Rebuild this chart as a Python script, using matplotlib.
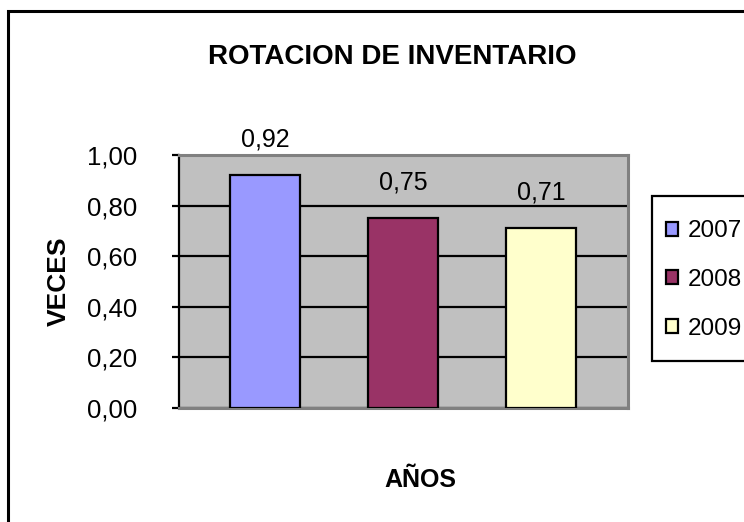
import matplotlib.pyplot as plt
from matplotlib.patches import Rectangle
from matplotlib.ticker import FuncFormatter

# --- Data ---
years = ['2007', '2008', '2009']
rotation = [0.92, 0.75, 0.71]
bar_colors = ['#9999FF', '#993366', '#FFFFCC']
y_ticks = [0.0, 0.2, 0.4, 0.6, 0.8, 1.0]

plt.rcParams['font.family'] = ['Liberation Sans', 'DejaVu Sans']

W, H = 744, 522
fig = plt.figure(figsize=(W / 100, H / 100), dpi=100)
ax = fig.add_axes([179 / W, 1 - 408 / H, (628 - 179) / W, (408 - 155) / H])

# --- Bars ---
x = list(range(len(years)))
bars = ax.bar(x, rotation, width=0.507, color=bar_colors,
              edgecolor='black', linewidth=1.6, zorder=3, label=years)
ax.bar_label(bars, labels=[f"{v:.2f}".replace('.', ',') for v in rotation],
             padding=17, fontsize=18)

# --- Axes styling ---
ax.set_facecolor('#C0C0C0')
ax.set_xlim(-0.623, 2.63)
ax.set_ylim(0, 1.0)
ax.set_yticks(y_ticks)
ax.yaxis.set_major_formatter(FuncFormatter(lambda v, p: f"{v:.2f}".replace('.', ',')))
ax.set_xticks([])
ax.tick_params(axis='y', direction='out', length=5, width=1.6, labelsize=18.5, pad=25)
ax.yaxis.grid(True, color='black', linewidth=1.6)
ax.set_axisbelow(True)

for side in ['top', 'right', 'bottom']:
    ax.spines[side].set_color('#808080')
    ax.spines[side].set_linewidth(2.2)
ax.spines['left'].set_color('black')
ax.spines['left'].set_linewidth(1.6)

# --- Titles ---
fig.text(392 / W, 1 - 57 / H, 'ROTACION DE INVENTARIO', ha='center', va='center',
         fontsize=20, fontweight='bold')
fig.text(59 / W, 1 - 281 / H, 'VECES', ha='center', va='center',
         rotation=90, fontsize=19, fontweight='bold')
fig.text(420 / W, 1 - 480 / H, 'AÑOS', ha='center', va='center',
         fontsize=18, fontweight='bold')

# --- Legend ---
fig.patches.append(Rectangle((652 / W, 1 - 361 / H), 0.3, (361 - 196) / H,
                             transform=fig.transFigure, facecolor='white',
                             edgecolor='black', linewidth=1.6))
fig.legend(handles=bars, labels=years, loc='center left',
           bbox_to_anchor=(656 / W, 1 - 280 / H), frameon=False, fontsize=17.5,
           handlelength=0.5, handleheight=0.5, handletextpad=0.4,
           labelspacing=1.1, borderaxespad=0)

# --- Outer chart frame ---
fig.patches.append(Rectangle((8 / W, -0.2), 1.2, 1.2 - 11 / H,
                             transform=fig.transFigure, facecolor='none',
                             edgecolor='black', linewidth=2.2))

fig.savefig('out.png', dpi=100)
